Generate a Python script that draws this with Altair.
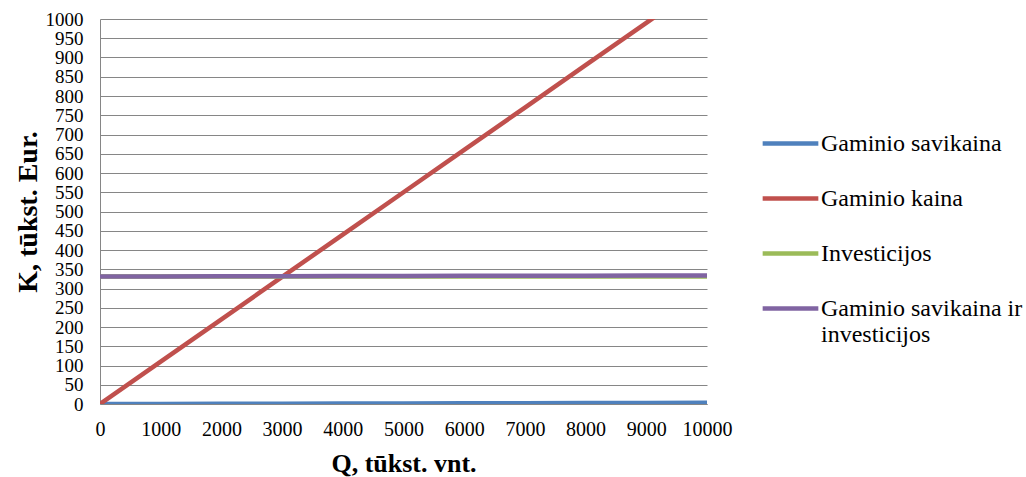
import altair as alt
import pandas as pd

# Production volume (thousand units)
q = [0, 1000, 2000, 3000, 4000, 5000, 6000, 7000, 8000, 9000, 10000]

# Cost series (thousand EUR)
savikaina = [0, 0.3, 0.6, 0.9, 1.2, 1.5, 1.8, 2.1, 2.4, 2.7, 3.0]
kaina = [0, 110, 220, 330, 440, 550, 660, 770, 880, 990, 1100]
investicijos = [331, 331, 331, 331, 331, 331, 331, 331, 331, 331, 331]
savikaina_ir_inv = [331, 331.3, 331.6, 331.9, 332.2, 332.5, 332.8, 333.1, 333.4, 333.7, 334]

series_names = [
    "Gaminio savikaina",
    "Gaminio kaina",
    "Investicijos",
    "Gaminio savikaina ir investicijos",
]
series_colors = ["#4F81BD", "#C0504D", "#9BBB59", "#8064A2"]
series_values = [savikaina, kaina, investicijos, savikaina_ir_inv]

rows = []
for order, (name, vals) in enumerate(zip(series_names, series_values)):
    for x, y in zip(q, vals):
        rows.append({"Q": x, "K": y, "series": name, "order": order})
df = pd.DataFrame(rows)

font = "Liberation Serif, Times New Roman, serif"

chart = (
    alt.Chart(df)
    .mark_line(strokeWidth=4.5, clip=True, strokeCap="round")
    .encode(
        x=alt.X(
            "Q:Q",
            scale=alt.Scale(domain=[0, 10000], nice=False),
            axis=alt.Axis(
                title="Q, tūkst. vnt.",
                values=list(range(0, 10001, 1000)),
                format="d",
                grid=False,
                ticks=False,
                labelOverlap=False,
                labelFlush=False,
                labelFont=font,
                labelPadding=15,
                titlePadding=11,
            ),
        ),
        y=alt.Y(
            "K:Q",
            scale=alt.Scale(domain=[0, 1000], nice=False),
            axis=alt.Axis(
                title="K, tūkst. Eur.",
                values=list(range(0, 1001, 50)),
                format="d",
                ticks=False,
                labelOverlap=False,
                labelFlush=False,
                labelFont=font,
                labelFontSize=19,
                labelPadding=17,
                titlePadding=3,
                titleFontSize=28,
            ),
        ),
        color=alt.Color(
            "series:N",
            scale=alt.Scale(domain=series_names, range=series_colors),
            legend=alt.Legend(
                title=None,
                orient="none",
                legendX=660,
                legendY=94,
                symbolType="stroke",
                symbolSize=3100,
                symbolStrokeWidth=4.5,
                rowPadding=12,
                labelOffset=0,
                labelLimit=300,
                labelFont=font,
                labelFontSize=24,
                labelExpr="datum.label == 'Gaminio savikaina ir investicijos' ? ['Gaminio savikaina ir', 'investicijos'] : datum.label",
            ),
        ),
        order=alt.Order("order:Q"),
        detail="series:N",
    )
    .properties(
        width=607,
        height=385,
        autosize=alt.AutoSizeParams(type="none"),
        padding={"left": 100, "top": 19, "right": 319, "bottom": 73},
    )
    .configure(font=font, background="white")
    .configure_view(stroke=None)
    .configure_axis(
        labelFont=font,
        titleFont=font,
        labelFontSize=20,
        titleFontSize=26,
        titleFontWeight="bold",
        labelColor="black",
        titleColor="black",
        domainColor="#868686",
        gridColor="#868686",
        gridWidth=1,
        domainWidth=1,
    )
    .configure_legend(labelFont=font, labelColor="black")
)

chart.save("out.html", embed_options={"renderer": "svg", "actions": False})
